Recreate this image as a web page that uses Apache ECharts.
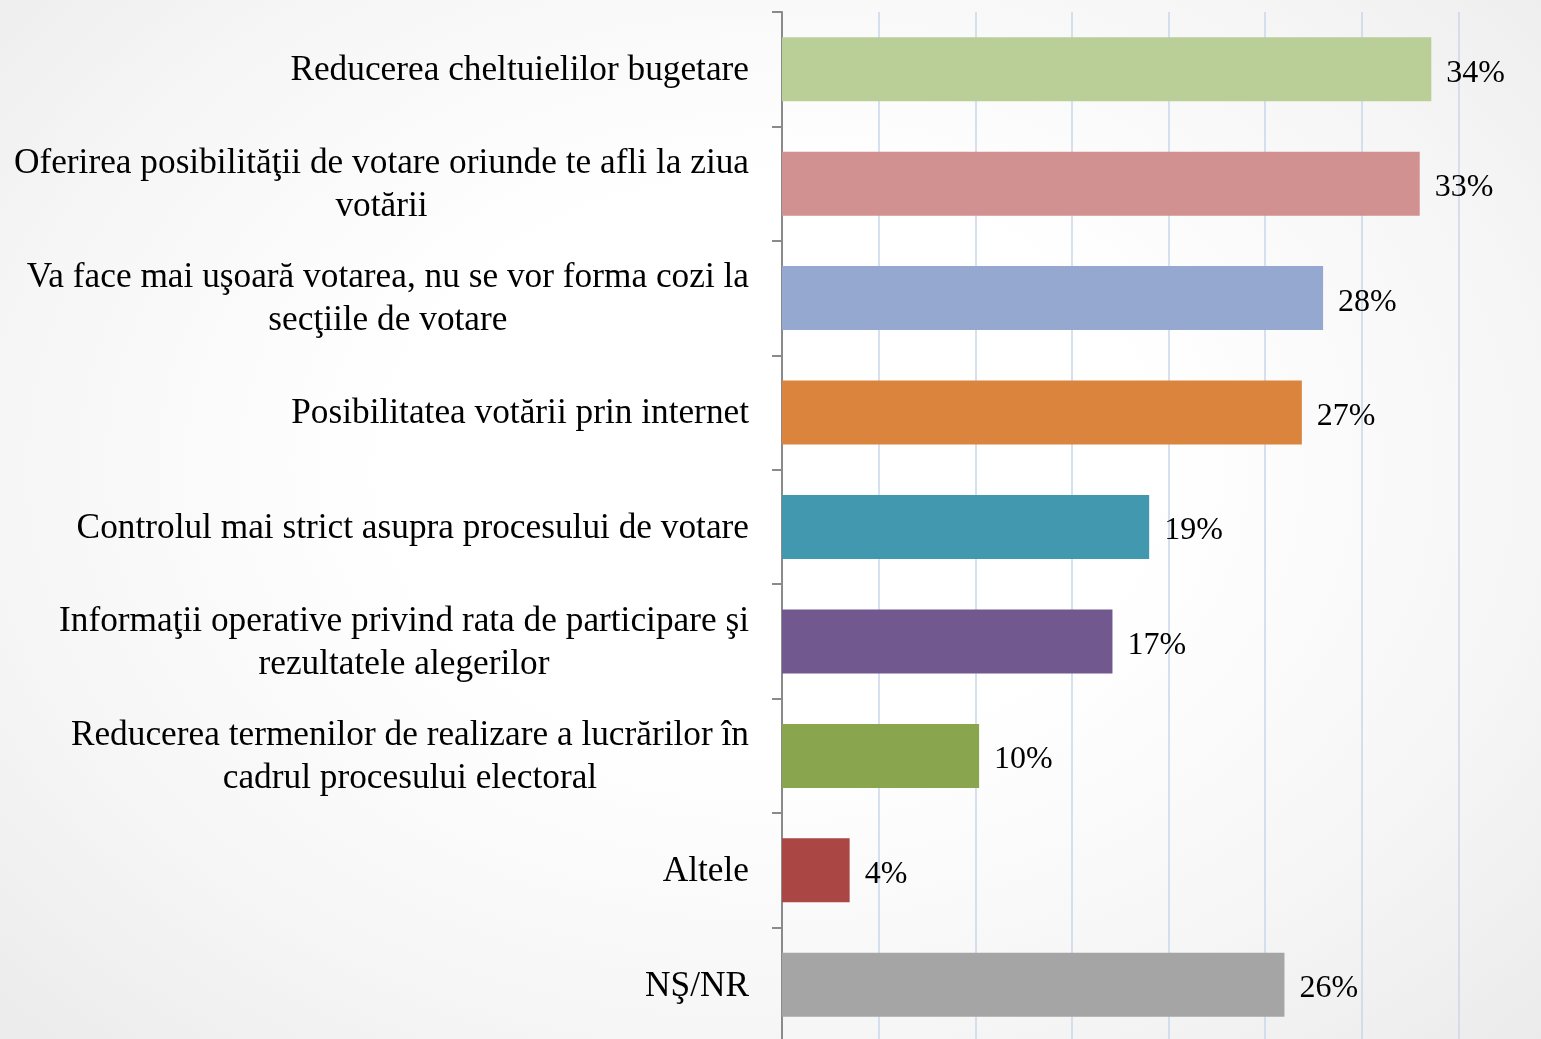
<!DOCTYPE html>
<html>
<head>
<meta charset="utf-8">
<script src="https://cdn.jsdelivr.net/npm/echarts@6/dist/echarts.min.js"></script>
<style>
html,body{margin:0;padding:0;width:1541px;height:1039px;overflow:hidden;
background:radial-gradient(ellipse at 50% 45%, #ffffff 35%, #f6f6f6 70%, #ebebeb 100%);}
#chart{width:1541px;height:1039px;}
</style>
</head>
<body>
<div id="chart"></div>
<script>
const categories = [
  "Reducerea cheltuielilor bugetare",
  "Oferirea posibilităţii de votare oriunde te afli la ziua\nvotării",
  "Va face mai uşoară votarea, nu se vor forma cozi la\nsecţiile de votare",
  "Posibilitatea votării prin internet",
  "Controlul mai strict asupra procesului de votare",
  "Informaţii operative privind rata de participare şi\nrezultatele alegerilor",
  "Reducerea termenilor de realizare a lucrărilor în\ncadrul procesului electoral",
  "Altele",
  "NŞ/NR"
];
const values = [33.6, 33.0, 28.0, 26.9, 19.0, 17.1, 10.2, 3.5, 26.0];
const axisMin = 0;
const axisMax = 40;
const axisStep = 5;
const palette = ["#b9cf97", "#d19190", "#95a9d0", "#db843d", "#4298af", "#71588f", "#89a54e", "#aa4643", "#a5a5a5"];

const FONT = "'Liberation Serif', 'Times New Roman', serif";
const chart = echarts.init(document.getElementById('chart'), null, {renderer: 'canvas'});
chart.setOption({
  backgroundColor: 'transparent',
  animation: false,
  grid: {left: 782, width: 773, top: 12, height: 1030, containLabel: false, outerBoundsMode: 'none'},
  xAxis: {
    type: 'value', min: axisMin, max: axisMax, interval: axisStep,
    axisLabel: {show: false}, axisLine: {show: false}, axisTick: {show: false},
    splitLine: {show: true, lineStyle: {color: '#c8d6ea', width: 1.5}}
  },
  yAxis: {
    type: 'category', inverse: true, data: categories,
    axisLine: {show: true, lineStyle: {color: '#8a8a8a', width: 2}},
    axisTick: {show: true, length: 10, lineStyle: {color: '#8a8a8a', width: 2}},
    axisLabel: {
      margin: 33, align: 'right',
      formatter: function (v) { return v.split('\n').map(function (l) { return '{c|' + l + '}'; }).join('\n'); },
      rich: {c: {align: 'center', fontSize: 35.3, lineHeight: 43, fontFamily: FONT, color: '#000', padding: [3, 0, 0, 0]}}
    }
  },
  series: [{
    type: 'bar', barWidth: 64,
    data: values.map(function (v, i) { return {value: v, itemStyle: {color: palette[i]}}; }),
    label: {show: true, position: 'right', distance: 15, offset: [0, 4],
      formatter: function (p) { return Math.round(p.value) + '%'; },
      fontSize: 32, fontFamily: FONT, color: '#000'}
  }]
});
</script>
</body>
</html>
